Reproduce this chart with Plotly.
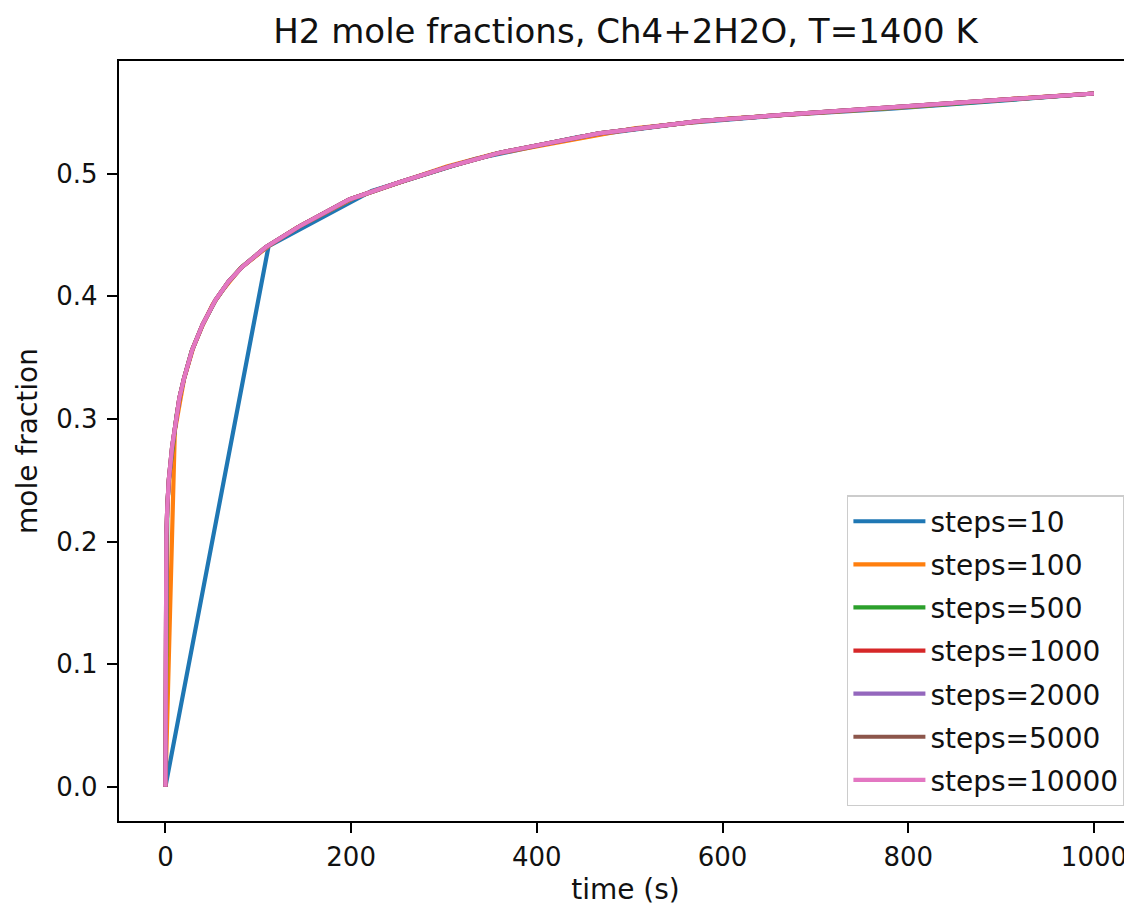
import plotly.graph_objects as go

# ---- data ----
labels = ["steps=10", "steps=100", "steps=500", "steps=1000", "steps=2000", "steps=5000", "steps=10000"]
colors = ["#1f77b4", "#ff7f0e", "#2ca02c", "#d62728", "#9467bd", "#8c564b", "#e377c2"]

# steps=10
t10 = [0, 111.1, 222.2, 333.3, 444.4, 555.6, 666.7, 777.8, 888.9, 1000]
h10 = [0, 0.441, 0.486, 0.512, 0.530, 0.541, 0.548, 0.553, 0.559, 0.5655]

# steps=100
t100 = [0, 10.1, 20.2, 30.3, 40.4, 50.5, 60.6, 80.8, 111.1, 141.4, 202.0, 252.5, 303.0, 353.5, 404.0,
        505.1, 606.1, 707.1, 808.1, 909.1, 1000]
h100 = [0, 0.290, 0.333, 0.359, 0.377, 0.393, 0.404, 0.423, 0.441, 0.456, 0.480, 0.493, 0.506, 0.516, 0.523,
        0.537, 0.545, 0.550, 0.555, 0.561, 0.5655]

# steps=500
t500 = [0, 2.0, 4.0, 8.0, 12.0, 16.0, 20.0, 28.1, 40.1, 54.1, 68.1, 82.2, 108.2, 144.3, 198.4, 252.5,
        306.6, 358.7, 466.9, 575.2, 683.4, 845.7, 1000]
h500 = [0, 0.228, 0.252, 0.280, 0.303, 0.320, 0.333, 0.355, 0.377, 0.397, 0.412, 0.424, 0.440, 0.457, 0.479,
        0.493, 0.506, 0.517, 0.533, 0.543, 0.549, 0.557, 0.5655]

# steps=1000 ... 10000 (indistinguishable curves)
t_fine = [0, 0.3, 1.0, 2.0, 3.6, 7.2, 10.0, 12.5, 15.0, 20.0, 28.7, 40.0, 53.9, 68.0, 82.6, 108.0, 144.0,
          198.0, 252.0, 306.0, 359.0, 467.0, 575.0, 683.0, 845.0, 1000]
h_fine = [0, 0.150, 0.205, 0.228, 0.250, 0.277, 0.290, 0.305, 0.317, 0.333, 0.356, 0.377, 0.397, 0.412,
          0.424, 0.440, 0.457, 0.479, 0.493, 0.506, 0.517, 0.533, 0.543, 0.549, 0.557, 0.5655]

series_t = [t10, t100, t500, t_fine, t_fine, t_fine, t_fine]
series_h = [h10, h100, h500, h_fine, h_fine, h_fine, h_fine]

x_ticks = [0, 200, 400, 600, 800, 1000]
y_ticks = [0.0, 0.1, 0.2, 0.3, 0.4, 0.5]

FONT = "DejaVu Sans"
TXT = "#111111"

# the page body adds an 8 px offset; the figure is sized to fill the rest of the window
W, H = 1124, 903

fig = go.Figure()
for lab, col, tt, hh in zip(labels, colors, series_t, series_h):
    fig.add_trace(go.Scatter(x=tt, y=hh, mode="lines", name=lab, legendgroup=lab,
                             line=dict(color=col, width=4.2)))

fig.update_layout(
    width=W, height=H,
    margin=dict(l=111, r=0, t=53, b=90, autoexpand=False),
    paper_bgcolor="white", plot_bgcolor="white",
    font=dict(family=FONT, size=28, color=TXT),
    title=dict(text="H2 mole fractions, Ch4+2H2O, T=1400 K", x=0.5, xref="paper", xanchor="center",
               y=1 - 23 / H, yref="container", yanchor="middle",
               font=dict(family=FONT, size=34, color=TXT)),
    showlegend=True,
    legend=dict(x=0.993, y=0.0197, xanchor="right", yanchor="bottom",
                bgcolor="rgba(255,255,255,0.8)", bordercolor="#cccccc", borderwidth=1.5,
                font=dict(family=FONT, size=28, color=TXT),
                traceorder="grouped", tracegroupgap=3.7, itemwidth=72),
)

fig.update_xaxes(range=[-50, 1041], tickvals=x_ticks, ticktext=[str(v) for v in x_ticks],
                 tickfont=dict(family=FONT, size=26, color=TXT),
                 showgrid=False, zeroline=False, showline=True, linecolor="black", linewidth=2.3,
                 mirror=True, ticks="outside", ticklen=10, tickwidth=2.3, tickcolor="black",
                 automargin=False, ticklabelstandoff=2,
                 title=dict(text="time (s)", standoff=8, font=dict(family=FONT, size=28, color=TXT)))
fig.update_yaxes(range=[-0.028, 0.592], tickvals=y_ticks, ticktext=[f"{v:.1f}" for v in y_ticks],
                 tickfont=dict(family=FONT, size=26, color=TXT),
                 showgrid=False, zeroline=False, showline=True, linecolor="black", linewidth=2.3,
                 mirror=False, ticks="outside", ticklen=10, tickwidth=2.3, tickcolor="black",
                 automargin=False, ticklabelstandoff=4,
                 title=dict(text="mole fraction", standoff=10, font=dict(family=FONT, size=28, color=TXT)))

fig.write_html("out.html")
